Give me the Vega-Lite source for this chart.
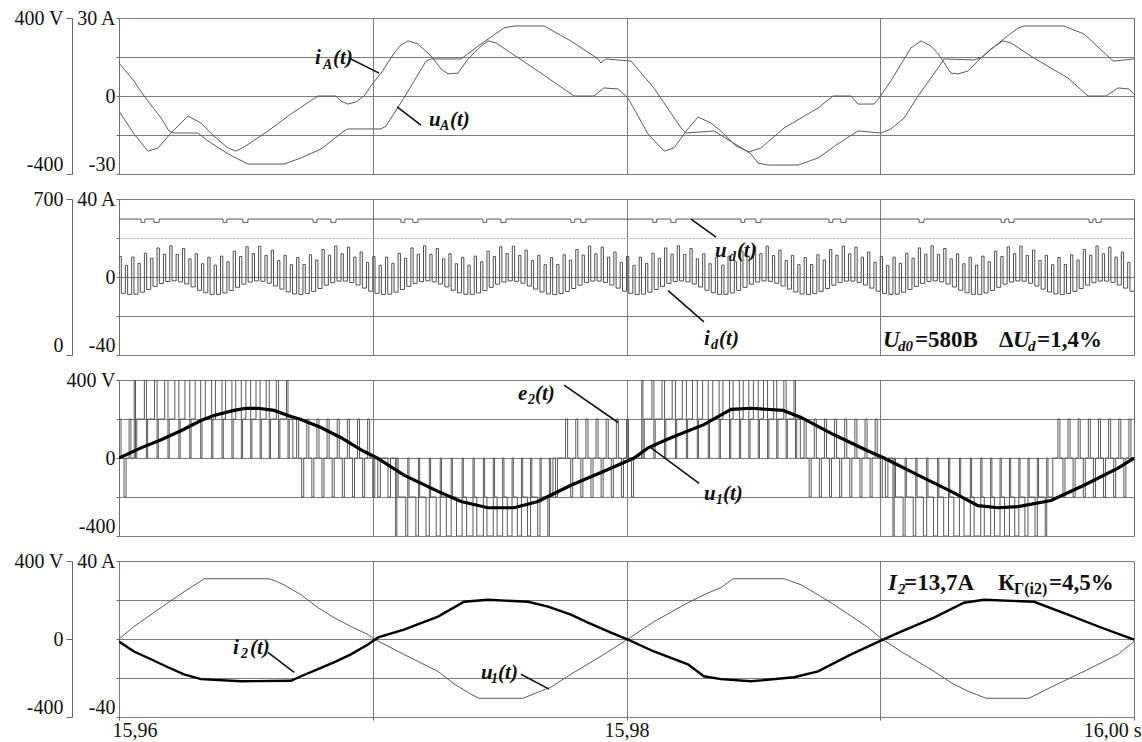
{
"$schema":"https://vega.github.io/schema/vega-lite/v6.json",
"background":"white",
"padding":{"left":13,"top":7,"right":0,"bottom":0},
"spacing":25,
"bounds":"flush",
"config":{
 "font":"Liberation Serif",
 "view":{"stroke":"#6e6e6e","strokeWidth":1},
 "axis":{"labelFont":"Liberation Serif","labelFontSize":20,"labelColor":"#111","tickColor":"#666","domainColor":"#666","gridColor":"#7c7c7c","gridOpacity":1,"gridWidth":1,"labelOverlap":false},
 "text":{"font":"Liberation Serif","fontWeight":"bold","color":"#111"}
},
"vconcat":[
{
 "width":1015,"height":156,
 "encoding":{"x":{"field":"ms","type":"quantitative","scale":{"domain":[0,40],"nice":false,"zero":false},"axis":{"values":[10,20,30],"labels":false,"ticks":false,"domain":false,"grid":true,"title":null}}},
 "layer":[
  {"encoding":{"y":{"field":"v","type":"quantitative","scale":{"domain":[-400,400],"nice":false},"axis":{"orient":"left","offset":47,"values":[-400,400],"labelExpr":"datum.value==400?'400 V':'-400'","grid":false,"domain":true,"tickSize":6,"labelPadding":3,"title":null,"labelBaseline":{"condition":{"test":"datum.value==-400","value":"bottom"},"value":"middle"}}}},
   "layer":[
    {"data":{"values":[{"ms":0,"v":169},{"ms":0.59,"v":77},{"ms":0.99,"v":0},{"ms":1.66,"v":-113},{"ms":1.97,"v":-179},{"ms":2.17,"v":-190},{"ms":3.11,"v":-190},{"ms":3.51,"v":-231},{"ms":4.3,"v":-297},{"ms":5.08,"v":-349},{"ms":6.5,"v":-349},{"ms":7.17,"v":-318},{"ms":7.96,"v":-272},{"ms":8.87,"v":-179},{"ms":9.02,"v":-169},{"ms":10.33,"v":-169},{"ms":10.52,"v":-154},{"ms":11.23,"v":-10},{"ms":12.1,"v":179},{"ms":12.3,"v":190},{"ms":13.48,"v":190},{"ms":14.27,"v":267},{"ms":15.17,"v":349},{"ms":15.57,"v":359},{"ms":16.75,"v":359},{"ms":17.81,"v":282},{"ms":18.88,"v":190},{"ms":18.99,"v":169},{"ms":19.19,"v":190},{"ms":20.18,"v":179},{"ms":21.08,"v":41},{"ms":22.15,"v":-164},{"ms":22.34,"v":-190},{"ms":23.45,"v":-179},{"ms":24.91,"v":-297},{"ms":25.18,"v":-344},{"ms":25.58,"v":-354},{"ms":26.76,"v":-354},{"ms":27.55,"v":-318},{"ms":28.33,"v":-246},{"ms":29.12,"v":-179},{"ms":30.03,"v":-190},{"ms":30.42,"v":-169},{"ms":30.94,"v":-113},{"ms":31.49,"v":0},{"ms":32.28,"v":144},{"ms":32.51,"v":190},{"ms":33.69,"v":185},{"ms":33.97,"v":195},{"ms":34.76,"v":282},{"ms":35.43,"v":349},{"ms":35.67,"v":359},{"ms":37.24,"v":359},{"ms":38.03,"v":318},{"ms":39.09,"v":190},{"ms":39.21,"v":179},{"ms":40,"v":190}]},
     "mark":{"type":"line","color":"#5a5a5a","strokeWidth":1,"clip":true}}
   ]},
  {"encoding":{"y":{"field":"v","type":"quantitative","scale":{"domain":[-30,30],"nice":false},"axis":{"orient":"left","values":[-30,-15,0,15,30],"labelExpr":"datum.value==30?'30 A':datum.value==0?'0':datum.value==-30?'-30':''","grid":true,"domain":false,"tickSize":3,"labelPadding":1,"title":null,"labelBaseline":{"condition":{"test":"datum.value==-30","value":"bottom"},"value":"middle"}}}},
   "layer":[
    {"data":{"values":[{"ms":0,"v":-5.8},{"ms":0.59,"v":-14.6},{"ms":1.14,"v":-21.2},{"ms":1.54,"v":-20},{"ms":2.05,"v":-14.2},{"ms":2.72,"v":-7.7},{"ms":3.23,"v":-10.4},{"ms":3.74,"v":-15.4},{"ms":4.3,"v":-20},{"ms":4.61,"v":-21.2},{"ms":5,"v":-19.2},{"ms":5.87,"v":-13.5},{"ms":6.78,"v":-6.9},{"ms":7.84,"v":0},{"ms":8.55,"v":0},{"ms":8.75,"v":-1.9},{"ms":9.02,"v":-3.1},{"ms":9.34,"v":-2.3},{"ms":9.66,"v":0},{"ms":10.01,"v":5},{"ms":10.33,"v":8.8},{"ms":10.84,"v":16.5},{"ms":11.11,"v":19.6},{"ms":11.39,"v":21.2},{"ms":11.78,"v":20},{"ms":12.3,"v":15.4},{"ms":12.69,"v":10.4},{"ms":12.97,"v":8.5},{"ms":13.36,"v":8.8},{"ms":13.75,"v":14.2},{"ms":14.27,"v":19.2},{"ms":14.54,"v":21.2},{"ms":14.86,"v":20.4},{"ms":16.51,"v":9.6},{"ms":17.93,"v":0},{"ms":18.72,"v":0},{"ms":19.11,"v":3.1},{"ms":19.67,"v":2.7},{"ms":20.06,"v":-0.8},{"ms":20.85,"v":-14.6},{"ms":21.48,"v":-21.2},{"ms":21.87,"v":-20},{"ms":22.35,"v":-13.5},{"ms":22.82,"v":-8.1},{"ms":23.33,"v":-10.4},{"ms":23.72,"v":-13.5},{"ms":24.31,"v":-19.2},{"ms":24.83,"v":-21.5},{"ms":25.3,"v":-20},{"ms":26.21,"v":-12.3},{"ms":27.55,"v":-4.6},{"ms":28.14,"v":0},{"ms":28.85,"v":0},{"ms":29.12,"v":-3.1},{"ms":29.75,"v":-3.1},{"ms":29.95,"v":-0.8},{"ms":30.42,"v":5.8},{"ms":30.82,"v":12.3},{"ms":31.21,"v":18.5},{"ms":31.61,"v":21.2},{"ms":32,"v":19.2},{"ms":32.28,"v":16.2},{"ms":32.79,"v":8.8},{"ms":33.06,"v":8.5},{"ms":33.46,"v":9.6},{"ms":33.85,"v":13.5},{"ms":34.36,"v":18.1},{"ms":34.84,"v":21.2},{"ms":35.15,"v":20.4},{"ms":36.06,"v":14.6},{"ms":37.4,"v":6.9},{"ms":38.19,"v":0},{"ms":38.9,"v":0},{"ms":39.37,"v":3.1},{"ms":39.8,"v":2.7},{"ms":40,"v":0.8}]},
     "mark":{"type":"line","color":"#5a5a5a","strokeWidth":1,"clip":true}},
    {"data":{"values":[{"ms":9.06,"v":14.6,"ms2":10.25,"v2":8.8},{"ms":11.9,"v":-11.2,"ms2":10.96,"v2":-4.2}]},
     "mark":{"type":"rule","color":"#111","strokeWidth":1.6},
     "encoding":{"x2":{"field":"ms2"},"y2":{"field":"v2"}}},
    {"data":{"values":[{"ms":7.72,"v":12.3,"txt":"i","sz":21},{"ms":8.04,"v":10.2,"txt":"A","sz":14},{"ms":8.43,"v":12.3,"txt":"(t)","sz":21},{"ms":12.22,"v":-11.5,"txt":"u","sz":21},{"ms":12.65,"v":-13.1,"txt":"A","sz":14},{"ms":13.04,"v":-11.5,"txt":"(t)","sz":21}]},
     "mark":{"type":"text","align":"left","baseline":"alphabetic","fontStyle":"italic","fontWeight":"bold","font":"Liberation Serif","color":"#111"},
     "encoding":{"text":{"field":"txt"},"size":{"field":"sz","type":"quantitative","scale":null}}}
   ]}
 ],
 "resolve":{"scale":{"y":"independent"}}
},
{
 "width":1015,"height":156,
 "encoding":{"x":{"field":"ms","type":"quantitative","scale":{"domain":[0,40],"nice":false,"zero":false},"axis":{"values":[10,20,30],"labels":false,"ticks":false,"domain":false,"grid":true,"title":null}}},
 "layer":[
  {"encoding":{"y":{"field":"v","type":"quantitative","scale":{"domain":[0,700],"nice":false},"axis":{"orient":"left","offset":47,"values":[0,700],"labelExpr":"datum.value==700?'700':'0'","grid":false,"domain":true,"tickSize":6,"labelPadding":3,"title":null,"labelBaseline":{"condition":{"test":"datum.value==0","value":"bottom"},"value":"middle"}}}},
   "layer":[
    {"data":{"values":[{"ms":0,"v":610},{"ms":0.87,"v":595},{"ms":1.02,"v":610},{"ms":1.38,"v":595},{"ms":1.58,"v":610},{"ms":4.1,"v":595},{"ms":4.25,"v":610},{"ms":4.88,"v":595},{"ms":5.08,"v":610},{"ms":7.65,"v":595},{"ms":7.8,"v":610},{"ms":8.35,"v":595},{"ms":8.55,"v":610},{"ms":11.11,"v":595},{"ms":11.26,"v":610},{"ms":11.58,"v":595},{"ms":11.78,"v":610},{"ms":14.34,"v":595},{"ms":14.49,"v":610},{"ms":15.05,"v":595},{"ms":15.25,"v":610},{"ms":17.81,"v":595},{"ms":17.96,"v":610},{"ms":18.2,"v":595},{"ms":18.4,"v":610},{"ms":21.04,"v":595},{"ms":21.19,"v":610},{"ms":21.75,"v":595},{"ms":21.95,"v":610},{"ms":24.51,"v":595},{"ms":24.66,"v":610},{"ms":25.1,"v":595},{"ms":25.3,"v":610},{"ms":27.98,"v":595},{"ms":28.13,"v":610},{"ms":28.45,"v":595},{"ms":28.65,"v":610},{"ms":31.53,"v":595},{"ms":31.72,"v":610},{"ms":34.76,"v":595},{"ms":34.91,"v":610},{"ms":35.07,"v":595},{"ms":35.27,"v":610},{"ms":38.23,"v":595},{"ms":38.38,"v":610},{"ms":38.5,"v":595},{"ms":38.7,"v":610},{"ms":40,"v":610}]},
     "mark":{"type":"line","interpolate":"step-after","color":"#5a5a5a","strokeWidth":1,"clip":true}}
   ]},
  {"encoding":{"y":{"field":"v","type":"quantitative","scale":{"domain":[-40,40],"nice":false},"axis":{"orient":"left","values":[-40,-20,0,20,40],"labelExpr":"datum.value==40?'40 A':datum.value==0?'0':datum.value==-40?'-40':''","grid":true,"gridColor":{"condition":{"test":"datum.value==20","value":"#b4b4b4"},"value":"#7c7c7c"},"gridDash":{"condition":{"test":"datum.value==20","value":[2,1]},"value":[]},"domain":false,"tickSize":3,"labelPadding":1,"title":null,"labelBaseline":{"condition":{"test":"datum.value==-40","value":"bottom"},"value":"middle"}}}},
   "layer":[
    {"data":{"values":[
{"ms":0,"v":10.5},{"ms":0.09,"v":-8.4},{"ms":0.25,"v":6},{"ms":0.34,"v":-9},{"ms":0.5,"v":10.2},{"ms":0.59,"v":-8.8},{"ms":0.75,"v":7},{"ms":0.84,"v":-7.8},{"ms":1,"v":12.2},{"ms":1.09,"v":-6.4},{"ms":1.25,"v":9.6},{"ms":1.34,"v":-4.8},{"ms":1.5,"v":14.9},{"ms":1.59,"v":-3.3},{"ms":1.75,"v":11.7},{"ms":1.84,"v":-2.3},{"ms":2,"v":16},{"ms":2.09,"v":-2},{"ms":2.25,"v":11.6},{"ms":2.34,"v":-2.5},{"ms":2.5,"v":14.6},{"ms":2.59,"v":-3.6},{"ms":2.75,"v":9.3},{"ms":2.84,"v":-5.1},{"ms":3,"v":11.9},{"ms":3.09,"v":-6.8},{"ms":3.25,"v":6.8},{"ms":3.34,"v":-8.1},{"ms":3.5,"v":10.1},{"ms":3.59,"v":-8.9},{"ms":3.75,"v":6.1},{"ms":3.84,"v":-8.9},{"ms":4,"v":10.7},{"ms":4.09,"v":-8.2},{"ms":4.25,"v":7.8},{"ms":4.34,"v":-6.9},{"ms":4.5,"v":13.2},{"ms":4.59,"v":-5.3},{"ms":4.75,"v":10.5},{"ms":4.84,"v":-3.7},{"ms":5,"v":15.5},{"ms":5.09,"v":-2.6},{"ms":5.25,"v":12},{"ms":5.34,"v":-2},{"ms":5.5,"v":15.8},{"ms":5.59,"v":-2.2},{"ms":5.75,"v":11},{"ms":5.84,"v":-3.2},{"ms":6,"v":13.8},{"ms":6.09,"v":-4.6},{"ms":6.25,"v":8.4},{"ms":6.34,"v":-6.2},{"ms":6.5,"v":11.1},{"ms":6.59,"v":-7.7},{"ms":6.75,"v":6.3},{"ms":6.84,"v":-8.7},{"ms":7,"v":10},{"ms":7.09,"v":-9},{"ms":7.25,"v":6.4},{"ms":7.34,"v":-8.5},{"ms":7.5,"v":11.4},{"ms":7.59,"v":-7.4},{"ms":7.75,"v":8.7},{"ms":7.84,"v":-5.9},{"ms":8,"v":14.1},{"ms":8.09,"v":-4.2},{"ms":8.25,"v":11.2},{"ms":8.34,"v":-2.9},{"ms":8.5,"v":15.9},{"ms":8.59,"v":-2.1},{"ms":8.75,"v":11.9},{"ms":8.84,"v":-2.1},{"ms":9,"v":15.3},{"ms":9.09,"v":-2.8},{"ms":9.25,"v":10.2},{"ms":9.34,"v":-4.1},{"ms":9.5,"v":12.8},{"ms":9.59,"v":-5.7},{"ms":9.75,"v":7.5},{"ms":9.84,"v":-7.3},
{"ms":10,"v":10.5},{"ms":10.09,"v":-8.4},{"ms":10.25,"v":6},{"ms":10.34,"v":-9},{"ms":10.5,"v":10.2},{"ms":10.59,"v":-8.8},{"ms":10.75,"v":7},{"ms":10.84,"v":-7.8},{"ms":11,"v":12.2},{"ms":11.09,"v":-6.4},{"ms":11.25,"v":9.6},{"ms":11.34,"v":-4.8},{"ms":11.5,"v":14.9},{"ms":11.59,"v":-3.3},{"ms":11.75,"v":11.7},{"ms":11.84,"v":-2.3},{"ms":12,"v":16},{"ms":12.09,"v":-2},{"ms":12.25,"v":11.6},{"ms":12.34,"v":-2.5},{"ms":12.5,"v":14.6},{"ms":12.59,"v":-3.6},{"ms":12.75,"v":9.3},{"ms":12.84,"v":-5.1},{"ms":13,"v":11.9},{"ms":13.09,"v":-6.8},{"ms":13.25,"v":6.8},{"ms":13.34,"v":-8.1},{"ms":13.5,"v":10.1},{"ms":13.59,"v":-8.9},{"ms":13.75,"v":6.1},{"ms":13.84,"v":-8.9},{"ms":14,"v":10.7},{"ms":14.09,"v":-8.2},{"ms":14.25,"v":7.8},{"ms":14.34,"v":-6.9},{"ms":14.5,"v":13.2},{"ms":14.59,"v":-5.3},{"ms":14.75,"v":10.5},{"ms":14.84,"v":-3.7},{"ms":15,"v":15.5},{"ms":15.09,"v":-2.6},{"ms":15.25,"v":12},{"ms":15.34,"v":-2},{"ms":15.5,"v":15.8},{"ms":15.59,"v":-2.2},{"ms":15.75,"v":11},{"ms":15.84,"v":-3.2},{"ms":16,"v":13.8},{"ms":16.09,"v":-4.6},{"ms":16.25,"v":8.4},{"ms":16.34,"v":-6.2},{"ms":16.5,"v":11.1},{"ms":16.59,"v":-7.7},{"ms":16.75,"v":6.3},{"ms":16.84,"v":-8.7},{"ms":17,"v":10},{"ms":17.09,"v":-9},{"ms":17.25,"v":6.4},{"ms":17.34,"v":-8.5},{"ms":17.5,"v":11.4},{"ms":17.59,"v":-7.4},{"ms":17.75,"v":8.7},{"ms":17.84,"v":-5.9},{"ms":18,"v":14.1},{"ms":18.09,"v":-4.2},{"ms":18.25,"v":11.2},{"ms":18.34,"v":-2.9},{"ms":18.5,"v":15.9},{"ms":18.59,"v":-2.1},{"ms":18.75,"v":11.9},{"ms":18.84,"v":-2.1},{"ms":19,"v":15.3},{"ms":19.09,"v":-2.8},{"ms":19.25,"v":10.2},{"ms":19.34,"v":-4.1},{"ms":19.5,"v":12.8},{"ms":19.59,"v":-5.7},{"ms":19.75,"v":7.5},{"ms":19.84,"v":-7.3},
{"ms":20,"v":10.5},{"ms":20.09,"v":-8.4},{"ms":20.25,"v":6},{"ms":20.34,"v":-9},{"ms":20.5,"v":10.2},{"ms":20.59,"v":-8.8},{"ms":20.75,"v":7},{"ms":20.84,"v":-7.8},{"ms":21,"v":12.2},{"ms":21.09,"v":-6.4},{"ms":21.25,"v":9.6},{"ms":21.34,"v":-4.8},{"ms":21.5,"v":14.9},{"ms":21.59,"v":-3.3},{"ms":21.75,"v":11.7},{"ms":21.84,"v":-2.3},{"ms":22,"v":16},{"ms":22.09,"v":-2},{"ms":22.25,"v":11.6},{"ms":22.34,"v":-2.5},{"ms":22.5,"v":14.6},{"ms":22.59,"v":-3.6},{"ms":22.75,"v":9.3},{"ms":22.84,"v":-5.1},{"ms":23,"v":11.9},{"ms":23.09,"v":-6.8},{"ms":23.25,"v":6.8},{"ms":23.34,"v":-8.1},{"ms":23.5,"v":10.1},{"ms":23.59,"v":-8.9},{"ms":23.75,"v":6.1},{"ms":23.84,"v":-8.9},{"ms":24,"v":10.7},{"ms":24.09,"v":-8.2},{"ms":24.25,"v":7.8},{"ms":24.34,"v":-6.9},{"ms":24.5,"v":13.2},{"ms":24.59,"v":-5.3},{"ms":24.75,"v":10.5},{"ms":24.84,"v":-3.7},{"ms":25,"v":15.5},{"ms":25.09,"v":-2.6},{"ms":25.25,"v":12},{"ms":25.34,"v":-2},{"ms":25.5,"v":15.8},{"ms":25.59,"v":-2.2},{"ms":25.75,"v":11},{"ms":25.84,"v":-3.2},{"ms":26,"v":13.8},{"ms":26.09,"v":-4.6},{"ms":26.25,"v":8.4},{"ms":26.34,"v":-6.2},{"ms":26.5,"v":11.1},{"ms":26.59,"v":-7.7},{"ms":26.75,"v":6.3},{"ms":26.84,"v":-8.7},{"ms":27,"v":10},{"ms":27.09,"v":-9},{"ms":27.25,"v":6.4},{"ms":27.34,"v":-8.5},{"ms":27.5,"v":11.4},{"ms":27.59,"v":-7.4},{"ms":27.75,"v":8.7},{"ms":27.84,"v":-5.9},{"ms":28,"v":14.1},{"ms":28.09,"v":-4.2},{"ms":28.25,"v":11.2},{"ms":28.34,"v":-2.9},{"ms":28.5,"v":15.9},{"ms":28.59,"v":-2.1},{"ms":28.75,"v":11.9},{"ms":28.84,"v":-2.1},{"ms":29,"v":15.3},{"ms":29.09,"v":-2.8},{"ms":29.25,"v":10.2},{"ms":29.34,"v":-4.1},{"ms":29.5,"v":12.8},{"ms":29.59,"v":-5.7},{"ms":29.75,"v":7.5},{"ms":29.84,"v":-7.3},
{"ms":30,"v":10.5},{"ms":30.09,"v":-8.4},{"ms":30.25,"v":6},{"ms":30.34,"v":-9},{"ms":30.5,"v":10.2},{"ms":30.59,"v":-8.8},{"ms":30.75,"v":7},{"ms":30.84,"v":-7.8},{"ms":31,"v":12.2},{"ms":31.09,"v":-6.4},{"ms":31.25,"v":9.6},{"ms":31.34,"v":-4.8},{"ms":31.5,"v":14.9},{"ms":31.59,"v":-3.3},{"ms":31.75,"v":11.7},{"ms":31.84,"v":-2.3},{"ms":32,"v":16},{"ms":32.09,"v":-2},{"ms":32.25,"v":11.6},{"ms":32.34,"v":-2.5},{"ms":32.5,"v":14.6},{"ms":32.59,"v":-3.6},{"ms":32.75,"v":9.3},{"ms":32.84,"v":-5.1},{"ms":33,"v":11.9},{"ms":33.09,"v":-6.8},{"ms":33.25,"v":6.8},{"ms":33.34,"v":-8.1},{"ms":33.5,"v":10.1},{"ms":33.59,"v":-8.9},{"ms":33.75,"v":6.1},{"ms":33.84,"v":-8.9},{"ms":34,"v":10.7},{"ms":34.09,"v":-8.2},{"ms":34.25,"v":7.8},{"ms":34.34,"v":-6.9},{"ms":34.5,"v":13.2},{"ms":34.59,"v":-5.3},{"ms":34.75,"v":10.5},{"ms":34.84,"v":-3.7},{"ms":35,"v":15.5},{"ms":35.09,"v":-2.6},{"ms":35.25,"v":12},{"ms":35.34,"v":-2},{"ms":35.5,"v":15.8},{"ms":35.59,"v":-2.2},{"ms":35.75,"v":11},{"ms":35.84,"v":-3.2},{"ms":36,"v":13.8},{"ms":36.09,"v":-4.6},{"ms":36.25,"v":8.4},{"ms":36.34,"v":-6.2},{"ms":36.5,"v":11.1},{"ms":36.59,"v":-7.7},{"ms":36.75,"v":6.3},{"ms":36.84,"v":-8.7},{"ms":37,"v":10},{"ms":37.09,"v":-9},{"ms":37.25,"v":6.4},{"ms":37.34,"v":-8.5},{"ms":37.5,"v":11.4},{"ms":37.59,"v":-7.4},{"ms":37.75,"v":8.7},{"ms":37.84,"v":-5.9},{"ms":38,"v":14.1},{"ms":38.09,"v":-4.2},{"ms":38.25,"v":11.2},{"ms":38.34,"v":-2.9},{"ms":38.5,"v":15.9},{"ms":38.59,"v":-2.1},{"ms":38.75,"v":11.9},{"ms":38.84,"v":-2.1},{"ms":39,"v":15.3},{"ms":39.09,"v":-2.8},{"ms":39.25,"v":10.2},{"ms":39.34,"v":-4.1},{"ms":39.5,"v":12.8},{"ms":39.59,"v":-5.7},{"ms":39.75,"v":7.5},{"ms":39.84,"v":-7.3},{"ms":40,"v":-7.3}]},
     "mark":{"type":"line","interpolate":"step-after","color":"#505050","strokeWidth":1,"clip":true}},
    {"data":{"values":[{"ms":22.54,"v":29.7,"ms2":23.53,"v2":20.4},{"ms":23.05,"v":-23,"ms2":21.64,"v2":-7}]},
     "mark":{"type":"rule","color":"#111","strokeWidth":1.6},
     "encoding":{"x2":{"field":"ms2"},"y2":{"field":"v2"}}},
    {"data":{"values":[{"ms":23.49,"v":10.1,"txt":"u","sz":21},{"ms":24.04,"v":8,"txt":"d","sz":14},{"ms":24.35,"v":10.1,"txt":"(t)","sz":21},{"ms":23.05,"v":-34.8,"txt":"i","sz":21},{"ms":23.33,"v":-36.9,"txt":"d","sz":14},{"ms":23.65,"v":-34.8,"txt":"(t)","sz":21},{"ms":30.11,"v":-35.9,"txt":"U","sz":23},{"ms":30.7,"v":-37.9,"txt":"d0","sz":15},{"ms":35.23,"v":-35.9,"txt":"U","sz":23},{"ms":35.82,"v":-37.9,"txt":"d","sz":15}]},
     "mark":{"type":"text","align":"left","baseline":"alphabetic","fontStyle":"italic","fontWeight":"bold","font":"Liberation Serif","color":"#111"},
     "encoding":{"text":{"field":"txt"},"size":{"field":"sz","type":"quantitative","scale":null}}},
    {"data":{"values":[{"ms":31.37,"v":-35.9,"txt":"=580В","sz":23},{"ms":34.68,"v":-35.9,"txt":"Δ","sz":23},{"ms":36.18,"v":-35.9,"txt":"=1,4%","sz":23}]},
     "mark":{"type":"text","align":"left","baseline":"alphabetic","fontWeight":"bold","font":"Liberation Serif","color":"#111"},
     "encoding":{"text":{"field":"txt"},"size":{"field":"sz","type":"quantitative","scale":null}}}
   ]}
 ],
 "resolve":{"scale":{"y":"independent"}}
},
{
 "width":1015,"height":156,
 "encoding":{
  "x":{"field":"ms","type":"quantitative","scale":{"domain":[0,40],"nice":false,"zero":false},"axis":{"values":[10,20,30],"labels":false,"ticks":false,"domain":false,"grid":true,"title":null}},
  "y":{"field":"v","type":"quantitative","scale":{"domain":[-400,400],"nice":false},"axis":{"orient":"left","values":[-400,-200,0,200,400],"labelExpr":"datum.value==400?'400 V':datum.value==0?'0':datum.value==-400?'-400':''","grid":true,"domain":false,"tickSize":3,"labelPadding":1,"title":null,"labelBaseline":{"condition":{"test":"datum.value==-400","value":"bottom"},"value":"middle"}}}
 },
 "layer":[
  {"data":{"values":[{"ms":0,"v":200},{"ms":0.08,"v":0},{"ms":0.2,"v":-200},{"ms":0.28,"v":0},{"ms":0.4,"v":200},{"ms":0.47,"v":0},
{"ms":0.6,"v":400},{"ms":0.65,"v":0},{"ms":0.7,"v":200},{"ms":1,"v":400},{"ms":1.08,"v":0},{"ms":1.13,"v":200},{"ms":1.4,"v":400},{"ms":1.5,"v":0},{"ms":1.55,"v":200},{"ms":1.8,"v":400},{"ms":1.93,"v":0},{"ms":1.98,"v":200},{"ms":2.2,"v":400},{"ms":2.36,"v":0},{"ms":2.41,"v":200},{"ms":2.6,"v":400},{"ms":2.79,"v":0},{"ms":2.84,"v":200},{"ms":3,"v":400},{"ms":3.22,"v":0},{"ms":3.27,"v":200},{"ms":3.4,"v":400},{"ms":3.65,"v":0},{"ms":3.7,"v":200},{"ms":3.8,"v":400},{"ms":4.06,"v":0},{"ms":4.11,"v":200},{"ms":4.2,"v":400},{"ms":4.45,"v":0},{"ms":4.5,"v":200},{"ms":4.6,"v":400},{"ms":4.82,"v":0},{"ms":4.87,"v":200},{"ms":5,"v":400},{"ms":5.19,"v":0},{"ms":5.24,"v":200},{"ms":5.4,"v":400},{"ms":5.56,"v":0},{"ms":5.61,"v":200},{"ms":5.8,"v":400},{"ms":5.92,"v":0},{"ms":5.97,"v":200},{"ms":6.2,"v":400},{"ms":6.29,"v":0},{"ms":6.34,"v":200},{"ms":6.6,"v":400},{"ms":6.66,"v":0},{"ms":6.71,"v":200},{"ms":6.85,"v":0},
{"ms":7,"v":200},{"ms":7.08,"v":0},{"ms":7.2,"v":-200},{"ms":7.28,"v":0},{"ms":7.4,"v":200},{"ms":7.48,"v":0},{"ms":7.6,"v":-200},{"ms":7.68,"v":0},{"ms":7.8,"v":200},{"ms":7.88,"v":0},{"ms":8,"v":-200},{"ms":8.08,"v":0},{"ms":8.2,"v":200},{"ms":8.28,"v":0},{"ms":8.4,"v":-200},{"ms":8.48,"v":0},{"ms":8.6,"v":200},{"ms":8.68,"v":0},{"ms":8.8,"v":-200},{"ms":8.88,"v":0},{"ms":9,"v":200},{"ms":9.08,"v":0},{"ms":9.2,"v":-200},{"ms":9.28,"v":0},{"ms":9.4,"v":200},{"ms":9.48,"v":0},{"ms":9.6,"v":-200},{"ms":9.68,"v":0},{"ms":9.8,"v":200},{"ms":9.88,"v":0},{"ms":10,"v":-200},{"ms":10.08,"v":0},{"ms":10.2,"v":-200},{"ms":10.3,"v":0},{"ms":10.6,"v":-200},{"ms":10.7,"v":0},
{"ms":10.9,"v":-400},{"ms":10.95,"v":0},{"ms":11,"v":-200},{"ms":11.3,"v":-400},{"ms":11.38,"v":0},{"ms":11.43,"v":-200},{"ms":11.7,"v":-400},{"ms":11.8,"v":0},{"ms":11.85,"v":-200},{"ms":12.1,"v":-400},{"ms":12.23,"v":0},{"ms":12.28,"v":-200},{"ms":12.5,"v":-400},{"ms":12.66,"v":0},{"ms":12.71,"v":-200},{"ms":12.9,"v":-400},{"ms":13.09,"v":0},{"ms":13.14,"v":-200},{"ms":13.3,"v":-400},{"ms":13.52,"v":0},{"ms":13.57,"v":-200},{"ms":13.7,"v":-400},{"ms":13.95,"v":0},{"ms":14,"v":-200},{"ms":14.1,"v":-400},{"ms":14.36,"v":0},{"ms":14.41,"v":-200},{"ms":14.5,"v":-400},{"ms":14.75,"v":0},{"ms":14.8,"v":-200},{"ms":14.9,"v":-400},{"ms":15.12,"v":0},{"ms":15.17,"v":-200},{"ms":15.3,"v":-400},{"ms":15.49,"v":0},{"ms":15.54,"v":-200},{"ms":15.7,"v":-400},{"ms":15.86,"v":0},{"ms":15.91,"v":-200},{"ms":16.1,"v":-400},{"ms":16.22,"v":0},{"ms":16.27,"v":-200},{"ms":16.5,"v":-400},{"ms":16.59,"v":0},{"ms":16.64,"v":-200},{"ms":16.9,"v":-400},{"ms":16.96,"v":0},{"ms":17.01,"v":-200},{"ms":17.1,"v":0},
{"ms":17.2,"v":-200},{"ms":17.28,"v":0},{"ms":17.6,"v":200},{"ms":17.68,"v":0},{"ms":17.8,"v":-200},{"ms":17.88,"v":0},{"ms":18,"v":200},{"ms":18.08,"v":0},{"ms":18.2,"v":-200},{"ms":18.28,"v":0},{"ms":18.4,"v":200},{"ms":18.48,"v":0},{"ms":18.6,"v":-200},{"ms":18.68,"v":0},{"ms":18.8,"v":200},{"ms":18.88,"v":0},{"ms":19,"v":-200},{"ms":19.08,"v":0},{"ms":19.2,"v":200},{"ms":19.28,"v":0},{"ms":19.4,"v":-200},{"ms":19.48,"v":0},{"ms":19.6,"v":200},{"ms":19.68,"v":0},{"ms":19.8,"v":-200},{"ms":19.88,"v":0},{"ms":20,"v":200},{"ms":20.08,"v":0},{"ms":20.2,"v":-200},{"ms":20.28,"v":0},
{"ms":20.6,"v":400},{"ms":20.65,"v":0},{"ms":20.7,"v":200},{"ms":21,"v":400},{"ms":21.08,"v":0},{"ms":21.13,"v":200},{"ms":21.4,"v":400},{"ms":21.5,"v":0},{"ms":21.55,"v":200},{"ms":21.8,"v":400},{"ms":21.93,"v":0},{"ms":21.98,"v":200},{"ms":22.2,"v":400},{"ms":22.36,"v":0},{"ms":22.41,"v":200},{"ms":22.6,"v":400},{"ms":22.79,"v":0},{"ms":22.84,"v":200},{"ms":23,"v":400},{"ms":23.22,"v":0},{"ms":23.27,"v":200},{"ms":23.4,"v":400},{"ms":23.65,"v":0},{"ms":23.7,"v":200},{"ms":23.8,"v":400},{"ms":24.06,"v":0},{"ms":24.11,"v":200},{"ms":24.2,"v":400},{"ms":24.45,"v":0},{"ms":24.5,"v":200},{"ms":24.6,"v":400},{"ms":24.82,"v":0},{"ms":24.87,"v":200},{"ms":25,"v":400},{"ms":25.19,"v":0},{"ms":25.24,"v":200},{"ms":25.4,"v":400},{"ms":25.56,"v":0},{"ms":25.61,"v":200},{"ms":25.8,"v":400},{"ms":25.92,"v":0},{"ms":25.97,"v":200},{"ms":26.2,"v":400},{"ms":26.29,"v":0},{"ms":26.34,"v":200},{"ms":26.6,"v":400},{"ms":26.66,"v":0},{"ms":26.71,"v":200},{"ms":26.85,"v":0},
{"ms":27,"v":200},{"ms":27.08,"v":0},{"ms":27.2,"v":-200},{"ms":27.28,"v":0},{"ms":27.4,"v":200},{"ms":27.48,"v":0},{"ms":27.6,"v":-200},{"ms":27.68,"v":0},{"ms":27.8,"v":200},{"ms":27.88,"v":0},{"ms":28,"v":-200},{"ms":28.08,"v":0},{"ms":28.2,"v":200},{"ms":28.28,"v":0},{"ms":28.4,"v":-200},{"ms":28.48,"v":0},{"ms":28.6,"v":200},{"ms":28.68,"v":0},{"ms":28.8,"v":-200},{"ms":28.88,"v":0},{"ms":29,"v":200},{"ms":29.08,"v":0},{"ms":29.2,"v":-200},{"ms":29.28,"v":0},{"ms":29.4,"v":200},{"ms":29.48,"v":0},{"ms":29.6,"v":-200},{"ms":29.68,"v":0},{"ms":29.8,"v":200},{"ms":29.88,"v":0},{"ms":30,"v":-200},{"ms":30.08,"v":0},{"ms":30.2,"v":-200},{"ms":30.3,"v":0},
{"ms":30.5,"v":-400},{"ms":30.55,"v":0},{"ms":30.6,"v":-200},{"ms":30.9,"v":-400},{"ms":30.98,"v":0},{"ms":31.03,"v":-200},{"ms":31.3,"v":-400},{"ms":31.4,"v":0},{"ms":31.45,"v":-200},{"ms":31.7,"v":-400},{"ms":31.83,"v":0},{"ms":31.88,"v":-200},{"ms":32.1,"v":-400},{"ms":32.26,"v":0},{"ms":32.31,"v":-200},{"ms":32.5,"v":-400},{"ms":32.69,"v":0},{"ms":32.74,"v":-200},{"ms":32.9,"v":-400},{"ms":33.12,"v":0},{"ms":33.17,"v":-200},{"ms":33.3,"v":-400},{"ms":33.55,"v":0},{"ms":33.6,"v":-200},{"ms":33.7,"v":-400},{"ms":33.96,"v":0},{"ms":34.01,"v":-200},{"ms":34.1,"v":-400},{"ms":34.35,"v":0},{"ms":34.4,"v":-200},{"ms":34.5,"v":-400},{"ms":34.72,"v":0},{"ms":34.77,"v":-200},{"ms":34.9,"v":-400},{"ms":35.09,"v":0},{"ms":35.14,"v":-200},{"ms":35.3,"v":-400},{"ms":35.46,"v":0},{"ms":35.51,"v":-200},{"ms":35.7,"v":-400},{"ms":35.82,"v":0},{"ms":35.87,"v":-200},{"ms":36.1,"v":-400},{"ms":36.19,"v":0},{"ms":36.24,"v":-200},{"ms":36.5,"v":-400},{"ms":36.56,"v":0},{"ms":36.61,"v":-200},{"ms":36.8,"v":0},
{"ms":37,"v":200},{"ms":37.08,"v":0},{"ms":37.2,"v":-200},{"ms":37.28,"v":0},{"ms":37.4,"v":200},{"ms":37.48,"v":0},{"ms":37.6,"v":-200},{"ms":37.68,"v":0},{"ms":37.8,"v":200},{"ms":37.88,"v":0},{"ms":38,"v":-200},{"ms":38.08,"v":0},{"ms":38.2,"v":200},{"ms":38.28,"v":0},{"ms":38.4,"v":-200},{"ms":38.48,"v":0},{"ms":38.6,"v":200},{"ms":38.68,"v":0},{"ms":38.8,"v":-200},{"ms":38.88,"v":0},{"ms":39,"v":200},{"ms":39.08,"v":0},{"ms":39.2,"v":-200},{"ms":39.28,"v":0},{"ms":39.4,"v":200},{"ms":39.48,"v":0},{"ms":39.6,"v":-200},{"ms":39.68,"v":0},{"ms":39.8,"v":200},{"ms":39.88,"v":0},{"ms":40,"v":0}]},
   "mark":{"type":"line","interpolate":"step-after","color":"#5a5a5a","strokeWidth":1,"clip":true}},
  {"data":{"values":[{"ms":0,"v":0},{"ms":0.87,"v":52},{"ms":1.66,"v":94},{"ms":2.44,"v":140},{"ms":3.23,"v":192},{"ms":3.74,"v":218},{"ms":4.53,"v":244},{"ms":5,"v":255},{"ms":5.48,"v":255},{"ms":6.11,"v":244},{"ms":6.66,"v":218},{"ms":7.17,"v":197},{"ms":7.96,"v":156},{"ms":8.75,"v":104},{"ms":9.54,"v":42},{"ms":10.17,"v":0},{"ms":11.23,"v":-88},{"ms":12.57,"v":-171},{"ms":13.48,"v":-223},{"ms":14.54,"v":-255},{"ms":15.57,"v":-255},{"ms":16.51,"v":-223},{"ms":17.81,"v":-140},{"ms":19.11,"v":-68},{"ms":20.3,"v":0},{"ms":20.85,"v":52},{"ms":21.75,"v":104},{"ms":23.05,"v":171},{"ms":24.12,"v":249},{"ms":24.91,"v":255},{"ms":26.17,"v":244},{"ms":26.88,"v":208},{"ms":28.18,"v":119},{"ms":29.52,"v":36},{"ms":30.15,"v":0},{"ms":31.49,"v":-88},{"ms":32.79,"v":-171},{"ms":33.85,"v":-244},{"ms":34.64,"v":-255},{"ms":35.43,"v":-249},{"ms":36.73,"v":-218},{"ms":38.03,"v":-140},{"ms":39.37,"v":-52},{"ms":40,"v":0}]},
   "mark":{"type":"line","color":"#000","strokeWidth":3.2,"clip":true}},
  {"data":{"values":[{"ms":17.54,"v":374,"ms2":19.67,"v2":182},{"ms":22.86,"v":-130,"ms2":20.97,"v2":52}]},
   "mark":{"type":"rule","color":"#111","strokeWidth":1.6},
   "encoding":{"x2":{"field":"ms2"},"y2":{"field":"v2"}}},
  {"data":{"values":[{"ms":15.72,"v":296,"txt":"e","sz":21},{"ms":16.12,"v":275,"txt":"2","sz":14},{"ms":16.39,"v":296,"txt":"(t)","sz":21},{"ms":23.05,"v":-213,"txt":"u","sz":21},{"ms":23.53,"v":-234,"txt":"1","sz":14},{"ms":23.8,"v":-213,"txt":"(t)","sz":21}]},
   "mark":{"type":"text","align":"left","baseline":"alphabetic","fontStyle":"italic","fontWeight":"bold","font":"Liberation Serif","color":"#111"},
   "encoding":{"text":{"field":"txt"},"size":{"field":"sz","type":"quantitative","scale":null}}}
 ]
},
{
 "width":1015,"height":156,
 "encoding":{"x":{"field":"ms","type":"quantitative","scale":{"domain":[0,40],"nice":false,"zero":false},"axis":{"values":[0,10,20,30,40],"grid":true,"domain":false,"ticks":true,"tickSize":3,"labelPadding":0,"labelFlush":true,"labelFlushOffset":7,"labelExpr":"datum.value==0?'15,96':datum.value==20?'15,98':datum.value==40?'16,00 s':''","title":null}}},
 "layer":[
  {"encoding":{"y":{"field":"v","type":"quantitative","scale":{"domain":[-400,400],"nice":false},"axis":{"orient":"left","offset":47,"values":[-400,0,400],"labelExpr":"datum.value==400?'400 V':datum.value==0?'0':'-400'","grid":false,"domain":true,"tickSize":6,"labelPadding":3,"title":null,"labelBaseline":{"condition":{"test":"datum.value==-400","value":"bottom"},"value":"middle"}}}},
   "layer":[
    {"data":{"values":[{"ms":0,"v":0},{"ms":0.59,"v":64},{"ms":1.26,"v":125},{"ms":1.93,"v":186},{"ms":2.56,"v":242},{"ms":2.9,"v":270},{"ms":3.2,"v":295},{"ms":3.35,"v":309},{"ms":5.91,"v":309},{"ms":6.2,"v":296},{"ms":6.5,"v":278},{"ms":7.17,"v":227},{"ms":7.84,"v":161},{"ms":8.47,"v":110},{"ms":9.14,"v":64},{"ms":9.81,"v":23},{"ms":10.05,"v":0},{"ms":11.23,"v":-79},{"ms":12.57,"v":-166},{"ms":13.2,"v":-230},{"ms":13.87,"v":-283},{"ms":14.19,"v":-304},{"ms":15.92,"v":-304},{"ms":16.51,"v":-273},{"ms":17.02,"v":-247},{"ms":17.81,"v":-181},{"ms":19.11,"v":-79},{"ms":20.06,"v":0},{"ms":21.08,"v":89},{"ms":22.42,"v":186},{"ms":23.1,"v":230},{"ms":23.72,"v":263},{"ms":24.2,"v":309},{"ms":26.21,"v":309},{"ms":26.88,"v":278},{"ms":27.5,"v":230},{"ms":28.18,"v":176},{"ms":29.52,"v":59},{"ms":30.07,"v":0},{"ms":30.82,"v":-64},{"ms":32.12,"v":-166},{"ms":32.8,"v":-225},{"ms":33.46,"v":-268},{"ms":34.17,"v":-304},{"ms":35.86,"v":-304},{"ms":36.73,"v":-247},{"ms":38.03,"v":-166},{"ms":39.37,"v":-79},{"ms":40,"v":-13}]},
     "mark":{"type":"line","color":"#5a5a5a","strokeWidth":1,"clip":true}}
   ]},
  {"encoding":{"y":{"field":"v","type":"quantitative","scale":{"domain":[-40,40],"nice":false},"axis":{"orient":"left","values":[-40,-20,0,20,40],"labelExpr":"datum.value==40?'40 A':datum.value==-40?'-40':''","grid":true,"domain":false,"tickSize":3,"labelPadding":1,"title":null,"labelBaseline":{"condition":{"test":"datum.value==-40","value":"bottom"},"value":"middle"}}}},
   "layer":[
    {"data":{"values":[{"ms":0,"v":-1.3},{"ms":0.59,"v":-6.4},{"ms":1.26,"v":-10.4},{"ms":1.93,"v":-14.5},{"ms":2.56,"v":-18.1},{"ms":3.23,"v":-20.6},{"ms":4.81,"v":-21.7},{"ms":6.78,"v":-21.4},{"ms":7.17,"v":-19.1},{"ms":7.84,"v":-15.5},{"ms":8.47,"v":-12},{"ms":9.14,"v":-7.9},{"ms":9.81,"v":-2.8},{"ms":10.21,"v":0.8},{"ms":11.23,"v":4.8},{"ms":12.57,"v":11.5},{"ms":13.6,"v":19.1},{"ms":14.54,"v":20.1},{"ms":16.12,"v":19.1},{"ms":16.91,"v":16.6},{"ms":17.81,"v":12.5},{"ms":18.48,"v":8.4},{"ms":19.39,"v":3.3},{"ms":20.06,"v":-0.3},{"ms":21.08,"v":-6.4},{"ms":22.42,"v":-13},{"ms":23.05,"v":-19.1},{"ms":23.72,"v":-20.6},{"ms":24.91,"v":-21.7},{"ms":26.6,"v":-19.6},{"ms":27.55,"v":-16.6},{"ms":28.85,"v":-7.9},{"ms":30.11,"v":-0.3},{"ms":30.82,"v":3.8},{"ms":32.12,"v":11},{"ms":33.3,"v":18.6},{"ms":34.09,"v":20.1},{"ms":36.06,"v":19.1},{"ms":37.4,"v":12.5},{"ms":38.7,"v":5.9},{"ms":40,"v":-0.3}]},
     "mark":{"type":"line","color":"#000","strokeWidth":2.4,"clip":true}},
    {"data":{"values":[{"ms":5.87,"v":-6.9,"ms2":6.9,"v2":-17.1},{"ms":15.84,"v":-18.1,"ms2":16.95,"v2":-25.7}]},
     "mark":{"type":"rule","color":"#111","strokeWidth":1.6},
     "encoding":{"x2":{"field":"ms2"},"y2":{"field":"v2"}}},
    {"data":{"values":[{"ms":4.49,"v":-7.9,"txt":"i","sz":21},{"ms":4.81,"v":-9.9,"txt":"2","sz":14},{"ms":5.16,"v":-7.9,"txt":"(t)","sz":21},{"ms":14.27,"v":-20.6,"txt":"u","sz":21},{"ms":14.66,"v":-22.7,"txt":"1","sz":14},{"ms":14.94,"v":-20.6,"txt":"(t)","sz":21},{"ms":30.31,"v":25.2,"txt":"I","sz":23},{"ms":30.7,"v":23.2,"txt":"2","sz":15}]},
     "mark":{"type":"text","align":"left","baseline":"alphabetic","fontStyle":"italic","fontWeight":"bold","font":"Liberation Serif","color":"#111"},
     "encoding":{"text":{"field":"txt"},"size":{"field":"sz","type":"quantitative","scale":null}}},
    {"data":{"values":[{"ms":30.94,"v":25.2,"txt":"=13,7A","sz":23},{"ms":34.64,"v":25.2,"txt":"К","sz":23},{"ms":35.27,"v":23.2,"txt":"Г(i2)","sz":16},{"ms":36.65,"v":25.2,"txt":"=4,5%","sz":23}]},
     "mark":{"type":"text","align":"left","baseline":"alphabetic","fontWeight":"bold","font":"Liberation Serif","color":"#111"},
     "encoding":{"text":{"field":"txt"},"size":{"field":"sz","type":"quantitative","scale":null}}}
   ]}
 ],
 "resolve":{"scale":{"y":"independent"}}
}
]
}
